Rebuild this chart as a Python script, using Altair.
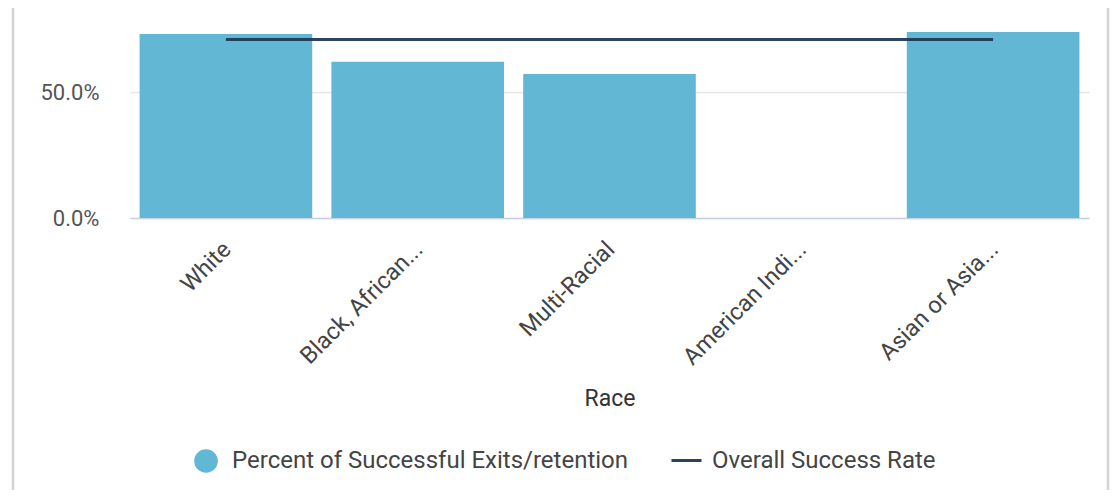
import altair as alt
import pandas as pd

races = ["White", "Black, African...", "Multi-Racial", "American Indi...", "Asian or Asia..."]
success_pct = [0.732, 0.621, 0.573, 0.0, 0.740]
overall_rate = [0.71, 0.71, 0.71, 0.71, 0.71]
bar_series = "Percent of Successful Exits/retention"
line_series = "Overall Success Rate"
y_ticks = [0.0, 0.5]

bars_df = pd.DataFrame({"Race": races, "value": success_pct, "series": [bar_series] * len(races)})
line_df = pd.DataFrame({"Race": races, "value": overall_rate, "series": [line_series] * len(races)})

FONT = "Roboto"
BAR = "#62b8d4"
LINE = "#1f3a56"

x_enc = alt.X(
    "Race:N",
    sort=races,
    scale=alt.Scale(paddingInner=0.1, paddingOuter=0.05),
    axis=alt.Axis(
        title="Race",
        labelAngle=-45,
        labelFontSize=23.5,
        labelColor="#444",
        labelFont=FONT,
        labelPadding=19,
        labelOffset=-7,
        ticks=False,
        domainColor="#c9d1e3",
        domainWidth=1.5,
        titleFont=FONT,
        titleFontSize=23,
        titleFontWeight="normal",
        titleColor="#333",
        titlePadding=19,
        labelLimit=300,
    ),
)
y_scale = alt.Scale(domain=[0, 0.835], clamp=True)
y_axis = alt.Axis(
    title=None,
    format=".1%",
    values=y_ticks,
    ticks=False,
    domain=False,
    labelFont=FONT,
    labelFontSize=22,
    labelColor="#555",
    labelPadding=31,
    gridColor="#e6e6e6",
    gridWidth=1.5,
)

bars = alt.Chart(bars_df).mark_bar().encode(
    x=x_enc,
    y=alt.Y("value:Q", scale=y_scale, axis=y_axis),
    fill=alt.Fill(
        "series:N",
        scale=alt.Scale(domain=[bar_series], range=[BAR]),
        legend=alt.Legend(
            title=None,
            orient="none",
            legendX=64,
            legendY=441,
            symbolType="circle",
            symbolSize=560,
            symbolStrokeWidth=0,
            labelFont=FONT,
            labelFontSize=24,
            labelColor="#444",
            labelOffset=14,
            labelLimit=600,
        ),
    ),
)

line = alt.Chart(line_df).mark_line(strokeWidth=3, opacity=0.95).encode(
    x=alt.X("Race:N", sort=races),
    y=alt.Y("value:Q", scale=y_scale),
    stroke=alt.Stroke(
        "series:N",
        scale=alt.Scale(domain=[line_series], range=[LINE]),
        legend=alt.Legend(
            title=None,
            orient="none",
            legendX=540,
            legendY=436,
            symbolType="stroke",
            symbolSize=900,
            symbolStrokeWidth=3,
            labelFont=FONT,
            labelFontSize=24,
            labelColor="#444",
            labelOffset=9,
            labelLimit=600,
        ),
    ),
)

border_df = pd.DataFrame({"side": ["left", "right"]})
left_border = alt.Chart(border_df.iloc[[0]]).mark_rule(color="#d4d4d4", strokeWidth=2.5, clip=False).encode(
    x=alt.value(-117), y=alt.value(-10), y2=alt.value(500)
)
right_border = alt.Chart(border_df.iloc[[1]]).mark_rule(color="#d4d4d4", strokeWidth=2.5, clip=False).encode(
    x=alt.value(978), y=alt.value(-10), y2=alt.value(500)
)

chart = (
    alt.layer(bars, line, left_border, right_border)
    .resolve_scale(fill="independent", stroke="independent")
    .properties(
        width=959,
        height=210,
        autosize=alt.AutoSizeParams(type="none"),
        padding={"left": 122, "top": 0, "right": 22, "bottom": 272},
    )
    .configure(font=FONT)
    .configure_view(strokeWidth=0, stroke="transparent")
)

chart.save("out.html", embed_options={"renderer": "svg", "actions": False})
